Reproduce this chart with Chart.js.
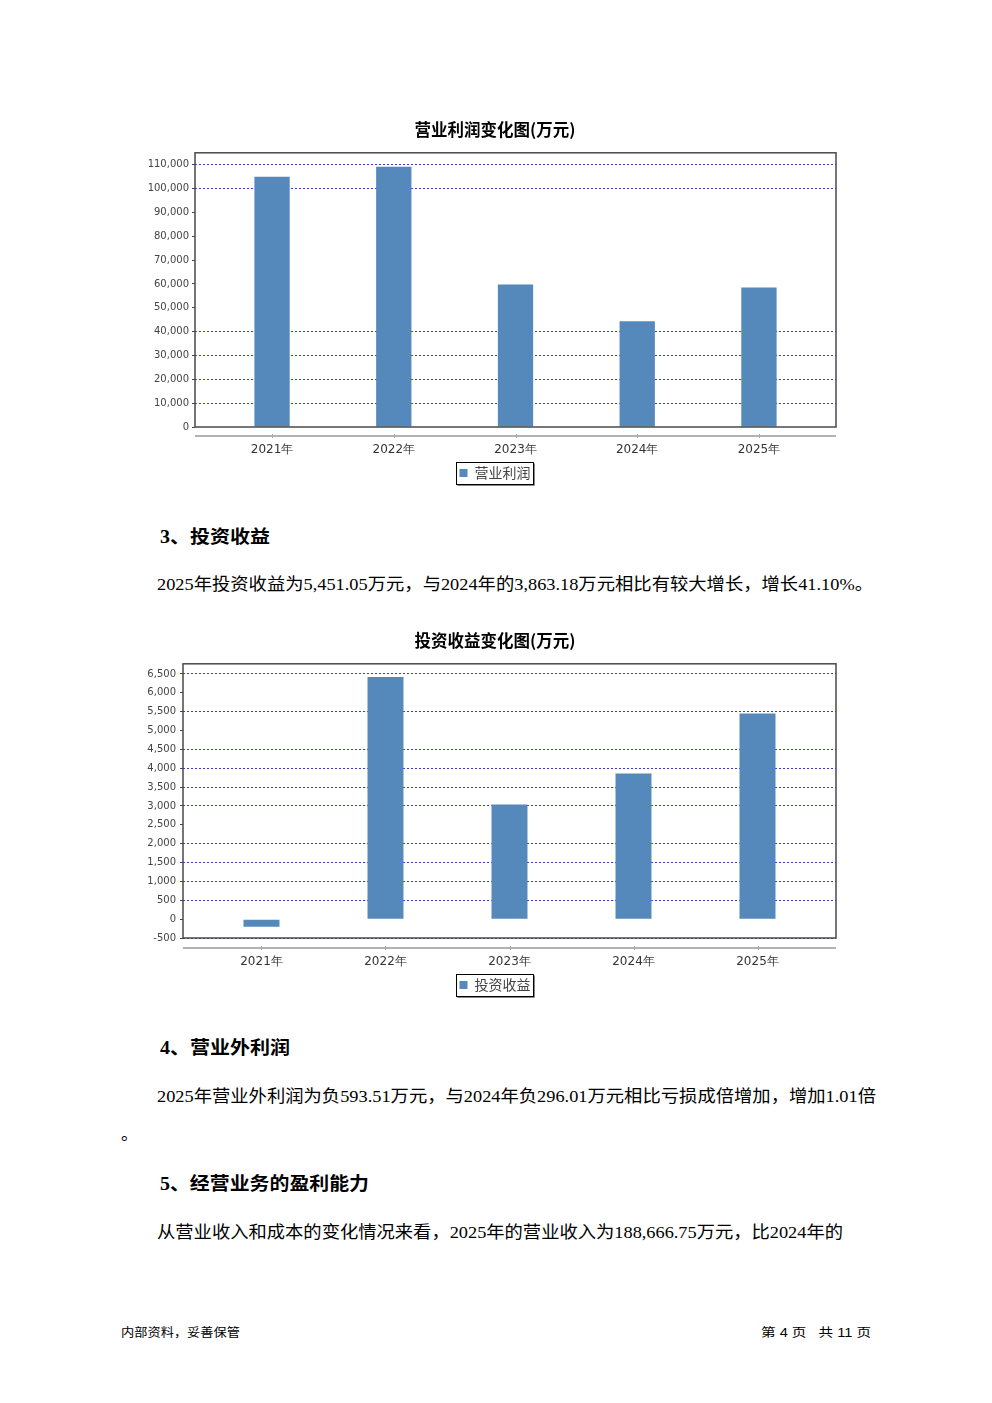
<!DOCTYPE html>
<html><head><meta charset="utf-8">
<script src="https://cdn.jsdelivr.net/npm/chart.js@4.4.1/dist/chart.umd.min.js"></script>
<style>
html,body{margin:0;padding:0;background:#fff;}
body{width:992px;height:1403px;position:relative;overflow:hidden;}
.t{position:absolute;white-space:nowrap;transform-origin:0 50%;color:#000;}
.p{font-family:"Liberation Serif","Noto Sans CJK SC",serif;font-size:17px;line-height:24px;}
.h{font-family:"Liberation Serif","Noto Sans CJK SC",serif;font-weight:bold;font-size:18px;line-height:26px;}
.f{font-family:"Liberation Sans","Noto Sans CJK SC",sans-serif;font-size:12px;line-height:16px;}
canvas{position:absolute;}
</style></head><body>
<canvas id="c1" width="710" height="380" style="left:140px;top:110px"></canvas>
<div class="t h" data-x="160" data-cy="537" data-w="110">3、投资收益</div>
<div class="t p" data-x="157" data-cy="585" data-w="716">2025年投资收益为5,451.05万元，与2024年的3,863.18万元相比有较大增长，增长41.10%。</div>
<canvas id="c2" width="710" height="382" style="left:140px;top:620px"></canvas>
<div class="t h" data-x="160" data-cy="1048" data-w="130">4、营业外利润</div>
<div class="t p" data-x="157" data-cy="1097" data-w="719">2025年营业外利润为负593.51万元，与2024年负296.01万元相比亏损成倍增加，增加1.01倍</div>
<div class="t p" data-x="121" data-cy="1135">。</div>
<div class="t h" data-x="160" data-cy="1184" data-w="209">5、经营业务的盈利能力</div>
<div class="t p" data-x="157" data-cy="1233" data-w="686">从营业收入和成本的变化情况来看，2025年的营业收入为188,666.75万元，比2024年的</div>
<div class="t f" data-x="121" data-cy="1333" data-w="119">内部资料，妥善保管</div>
<div class="t f" data-x="761" data-cy="1333" data-w="110">第 4 页&nbsp;&nbsp;&nbsp;共 11 页</div>
<script>
// ---- data ----
const years = ['2021年', '2022年', '2023年', '2024年', '2025年'];
const operatingProfit = [105000, 109200, 59800, 44300, 58550];
const investmentIncome = [-200, 6420, 3040, 3863.18, 5451.05];
const profitTicks = [0, 10000, 20000, 30000, 40000, 50000, 60000, 70000, 80000, 90000, 100000, 110000];
const profitGridShown = [10000, 20000, 30000, 40000, 100000, 110000];
const incomeTicks = [-500, 0, 500, 1000, 1500, 2000, 2500, 3000, 3500, 4000, 4500, 5000, 5500, 6000, 6500];
const incomeGridShown = [-500, 500, 1000, 1500, 2000, 3000, 3500, 4000, 4500, 5500, 6500];

// ---- text layout ----
document.querySelectorAll('.t').forEach(el => {
  const r = el.getBoundingClientRect();
  el.style.left = el.dataset.x + 'px';
  el.style.top = (parseFloat(el.dataset.cy) - r.height / 2) + 'px';
  if (el.dataset.w) el.style.transform = 'scaleX(' + (parseFloat(el.dataset.w) / r.width) + ')';
});

const framePlugin = gap => ({
  id: 'frame',
  afterLayout(chart) { chart.scales.y.left = 0; },
  afterDraw(chart) {
    const {ctx, chartArea: a, scales: {x}} = chart;
    ctx.save();
    ctx.strokeStyle = '#4a4a4a'; ctx.lineWidth = 1.5;
    ctx.strokeRect(a.left, a.top, a.right - a.left, a.bottom - a.top);
    const y = a.bottom + gap;
    ctx.strokeStyle = '#999'; ctx.lineWidth = 1.5;
    ctx.beginPath(); ctx.moveTo(a.left, y); ctx.lineTo(a.right, y); ctx.stroke();
    ctx.lineWidth = 1; ctx.strokeStyle = '#aaa';
    x.ticks.forEach(t => {
      const px = Math.round(x.getPixelForValue(t.value)) + 0.5;
      ctx.beginPath(); ctx.moveTo(px, y - 2); ctx.lineTo(px, y + 2); ctx.stroke();
    });
    const hb = chart.legend.legendHitBoxes[0];
    if (hb) {
      const cy = hb.top + hb.height / 2;
      const l = Math.round(hb.left - 4) + 0.5, r = Math.round(hb.left + hb.width + 3) + 0.5;
      const t = Math.round(cy - 11) + 0.5, b = Math.round(cy + 11) + 0.5;
      ctx.strokeStyle = '#888'; ctx.lineWidth = 1;
      ctx.beginPath(); ctx.moveTo(l + 1, b + 1); ctx.lineTo(r + 1, b + 1); ctx.lineTo(r + 1, t + 1); ctx.stroke();
      ctx.strokeStyle = '#000';
      ctx.strokeRect(l, t, r - l, b - t);
    }
    ctx.restore();
  }
});

function makeChart(id, title, label, values, yMin, yMax, yTicks, gridShown, cfg) {
  return new Chart(document.getElementById(id), {
    type: 'bar',
    data: {datasets: [{
      label, data: values.map((v, i) => ({x: i, y: v})),
      backgroundColor: '#5588bb', borderWidth: 0,
      barPercentage: 0.29, categoryPercentage: 1
    }]},
    options: {
      responsive: false, animation: false, devicePixelRatio: 1,
      layout: {padding: {left: 14, right: cfg.padRight, top: 0, bottom: 0}},
      plugins: {
        title: {display: true, text: title, color: '#000',
          font: {family: '"Noto Sans CJK SC"', size: 16.5, weight: 'bold'},
          padding: {top: cfg.titleTop, bottom: cfg.titleBottom}},
        legend: {position: 'bottom', labels: {boxWidth: 8, boxHeight: 8, padding: 6, color: '#444',
          font: {family: '"Noto Sans CJK SC"', size: 14}}},
        tooltip: {enabled: false}
      },
      scales: {
        x: {type: 'linear', min: -0.633, max: 4.633, offset: false,
          afterBuildTicks: s => { s.ticks = years.map((_, i) => ({value: i})); },
          afterFit: s => { s.height = cfg.xHeight; },
          grid: {display: false, offset: false}, border: {display: false},
          ticks: {callback: v => years[v], padding: cfg.xPad, color: '#333', maxRotation: 0, autoSkip: false,
            font: {family: 'DejaVu Sans', size: 12}}
        },
        y: {min: yMin, max: yMax,
          afterBuildTicks: s => { s.ticks = yTicks.map(v => ({value: v})); },
          afterFit: s => { s.width = cfg.yWidth; },
          border: {display: false, dash: [2, 2]},
          grid: {color: c => gridShown.includes(c.tick && c.tick.value) ? '#3535f5' : 'rgba(0,0,0,0)',
            lineWidth: 1, tickLength: 3, tickColor: '#444', drawTicks: true},
          ticks: {padding: cfg.yPad, color: '#444', font: {family: 'DejaVu Sans', size: 10},
            callback: v => v.toLocaleString('en-US')}
        }
      }
    },
    plugins: [framePlugin(cfg.axisGap)]
  });
}

makeChart('c1', '营业利润变化图(万元)', '营业利润', operatingProfit, 0, 115000, profitTicks, profitGridShown,
  {padRight: 14, titleTop: 10, titleBottom: 13, xHeight: 33, xPad: 8, yWidth: 41, yPad: 3, axisGap: 9});
makeChart('c2', '投资收益变化图(万元)', '投资收益', investmentIncome, -500, 6770, incomeTicks, incomeGridShown,
  {padRight: 14, titleTop: 11, titleBottom: 13, xHeight: 34, xPad: 9, yWidth: 29, yPad: 4, axisGap: 10});
</script>
</body></html>
